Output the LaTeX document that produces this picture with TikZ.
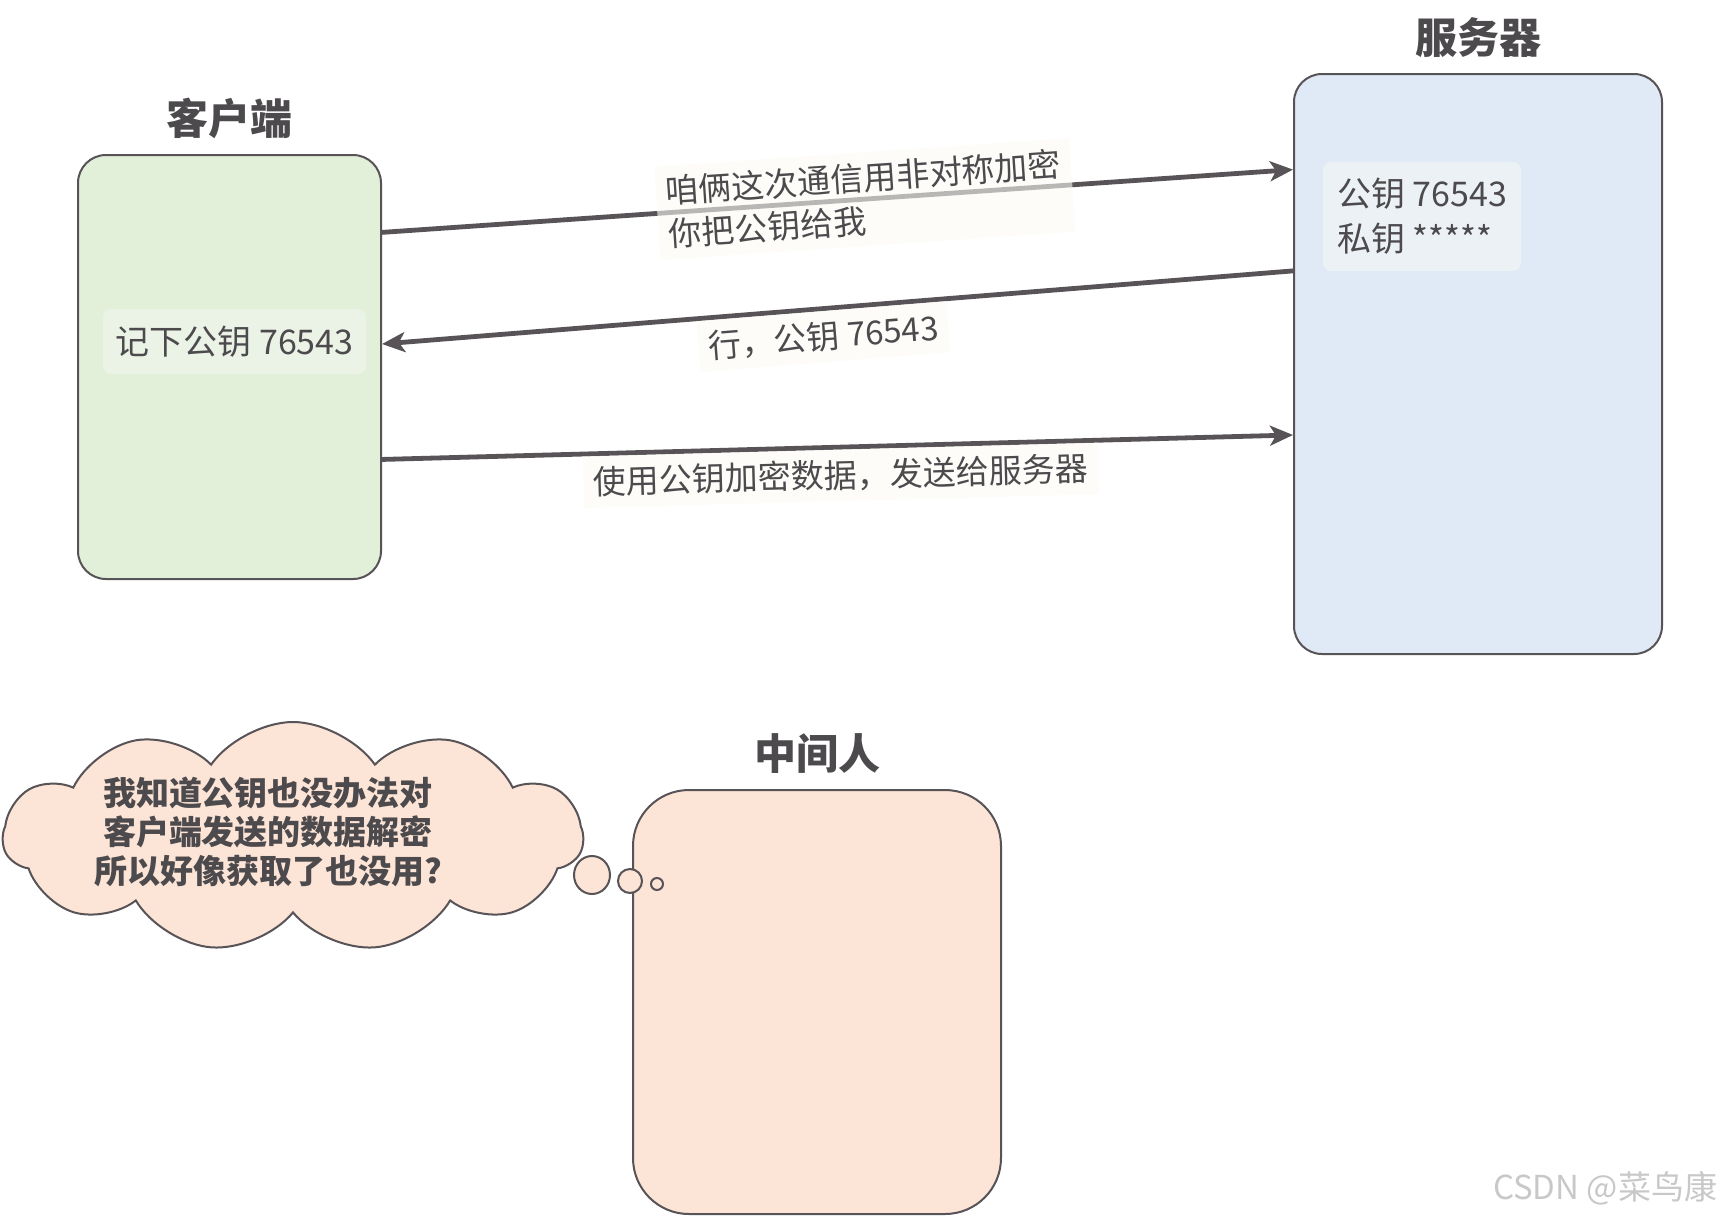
\documentclass[tikz,border=0pt]{standalone}
\usepackage{fontspec}
\newfontfamily\cjk{Noto Sans CJK SC}
\usetikzlibrary{positioning,calc,arrows.meta,shapes.symbols}

\definecolor{inkgray}{HTML}{4D4A4D}
\definecolor{linegray}{HTML}{575357}
\definecolor{clientfill}{HTML}{E2F0DA}
\definecolor{clientnote}{HTML}{EAF3E6}
\definecolor{serverfill}{HTML}{DFEAF6}
\definecolor{servernote}{HTML}{EBF1F5}
\definecolor{mitmfill}{HTML}{FCE4D6}
\definecolor{labelbg}{HTML}{FBFAF5}
\definecolor{markgray}{HTML}{C8C8C8}

\tikzset{
  party/.style={draw=linegray, line width=1pt, rounded corners=14pt, inner sep=0pt},
  title/.style={font=\cjk\bfseries\fontsize{21}{25}\selectfont, text=inkgray},
  note/.style={rounded corners=4pt, align=left, inner sep=5pt, text=inkgray,
    font=\cjk\fontsize{17}{22.5}\selectfont},
  msg/.style={draw=linegray, line width=2.4pt,
    -{Stealth[length=11.5pt,width=10pt,inset=3pt]}},
  msglabel/.style={sloped, fill=labelbg, fill opacity=.6, text opacity=1,
    text=inkgray, align=left, inner sep=5pt,
    font=\cjk\fontsize{16.5}{21.5}\selectfont},
  bubble/.style={draw=linegray, line width=1pt, fill=mitmfill},
}

\begin{document}
\begin{tikzpicture}[x=0.5pt,y=-0.5pt]
  \useasboundingbox (0,0) rectangle (1721,1217);
  % the three parties
  \node (client) [party, fill=clientfill, minimum width=151.5pt, minimum height=212pt] at (229.5,367) {};
  \node (server) [party, fill=serverfill, minimum width=184pt, minimum height=290pt] at (1478,364) {};
  \node (mitm) [party, fill=mitmfill, rounded corners=28pt, minimum width=184pt, minimum height=212pt] at (817,1002) {};
  \node (clientt) [title] at ([yshift=18pt]client.north) {客户端};
  \node (servert) [title] at ([yshift=17.5pt]server.north) {服务器};
  \node (mitmt) [title] at ([yshift=17.5pt]mitm.north) {中间人};
  % keys
  \node (ckey) [note, fill=clientnote, minimum width=131.5pt, minimum height=32.5pt] at (234.5,341.5) {记下公钥 76543};
  \node (skey) [note, fill=servernote, minimum width=99pt, minimum height=54.5pt] at (1422,216.5) {公钥 76543\\私钥 *****};
  % messages
  \draw[msg] ($(client.north east)!.184!(client.south east)$)
    -- node[msglabel, pos=.53] {咱俩这次通信用非对称加密\\你把公钥给我}
    ($(server.north west)!.166!(server.south west)$);
  \draw[msg] ($(server.north west)!.34!(server.south west)$)
    -- node[msglabel, pos=.518, anchor=north] {行，公钥 76543}
    ($(client.north east)!.446!(client.south east)$);
  \draw[msg] ($(client.north east)!.717!(client.south east)$)
    -- node[msglabel, pos=.503, anchor=north] {使用公钥加密数据，发送给服务器}
    ($(server.north west)!.622!(server.south west)$);
  % thought of the man in the middle
  \node (thought) [cloud, bubble, cloud puffs=11, cloud puff arc=110, aspect=2.6,
    minimum width=290pt, minimum height=115pt, inner sep=0pt] at (293,837) {};
  \node (thoughtt) [align=center, text=inkgray, font=\cjk\bfseries\fontsize{16.5}{19.5}\selectfont]
    at ([xshift=-12.5pt,yshift=2.5pt]thought.center)
    {我知道公钥也没办法对\\客户端发送的数据解密\\所以好像获取了也没用?};
  \draw[bubble] (592,875) ellipse [x radius=18, y radius=19];
  \draw[bubble] (630,881) ellipse [x radius=12, y radius=12];
  \draw[bubble] (657,884) ellipse [x radius=6, y radius=6];
  \node (mark) [text=markgray, font=\cjk\fontsize{16.5}{20}\selectfont] at (1605,1188) {CSDN @菜鸟康};
\end{tikzpicture}
\end{document}
